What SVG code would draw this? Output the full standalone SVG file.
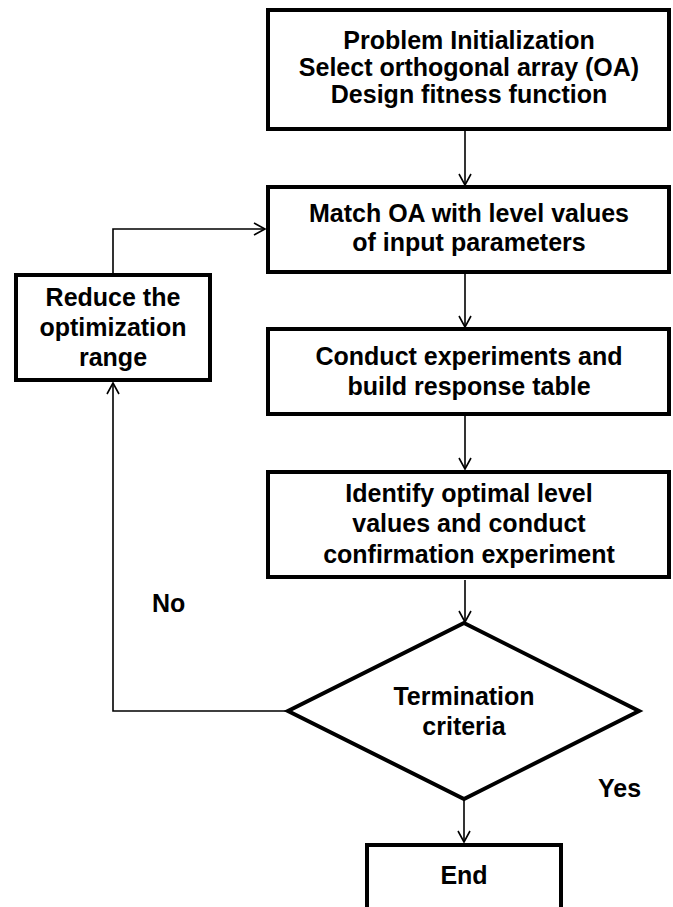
<svg xmlns="http://www.w3.org/2000/svg" width="673" height="907" viewBox="0 0 673 907">
<style>
.box{fill:#fff;stroke:#000;stroke-width:4}
.t{font-family:"Liberation Sans",Arial,sans-serif;font-weight:bold;font-size:25px;fill:#000;text-anchor:middle}
.lbl{font-family:"Liberation Sans",Arial,sans-serif;font-weight:bold;font-size:25px;fill:#000}
.c{fill:none;stroke:#000;stroke-width:1.6}
</style>
<defs>
<marker id="ah" markerUnits="userSpaceOnUse" markerWidth="14" markerHeight="16" refX="12" refY="7" orient="auto">
<path d="M1,1 L12,7 L1,13" fill="none" stroke="#000" stroke-width="1.6"/>
</marker>
</defs>
<rect width="673" height="907" fill="#fff"/>
<g id="connectors">
<line class="c" x1="465" y1="131" x2="465" y2="185" marker-end="url(#ah)"/>
<line class="c" x1="465" y1="274" x2="465" y2="327" marker-end="url(#ah)"/>
<line class="c" x1="465" y1="416" x2="465" y2="469" marker-end="url(#ah)"/>
<line class="c" x1="465" y1="580" x2="465" y2="622" marker-end="url(#ah)"/>
<line class="c" x1="464" y1="800" x2="464" y2="842" marker-end="url(#ah)"/>
<polyline class="c" points="288,711 113,711 113,383" marker-end="url(#ah)"/>
<polyline class="c" points="113,273 113,229 265,229" marker-end="url(#ah)"/>
</g>
<g id="n1">
<rect class="box" x="268" y="10" width="401" height="119"/>
<text class="t" x="469" y="49">Problem Initialization</text>
<text class="t" x="469" y="76">Select orthogonal array (OA)</text>
<text class="t" x="469" y="103">Design fitness function</text>
</g>
<g id="n2">
<rect class="box" x="268" y="187" width="401" height="85"/>
<text class="t" x="469" y="222">Match OA with level values</text>
<text class="t" x="469" y="251">of input parameters</text>
</g>
<g id="n3">
<rect class="box" x="268" y="329" width="401" height="85"/>
<text class="t" x="469" y="365">Conduct experiments and</text>
<text class="t" x="469" y="395">build response table</text>
</g>
<g id="n4">
<rect class="box" x="268" y="472" width="401" height="105"/>
<text class="t" x="469" y="502">Identify optimal level</text>
<text class="t" x="469" y="532">values and conduct</text>
<text class="t" x="469" y="563">confirmation experiment</text>
</g>
<g id="n5">
<rect class="box" x="16" y="275" width="194" height="105"/>
<text class="t" x="113" y="306">Reduce the</text>
<text class="t" x="113" y="336">optimization</text>
<text class="t" x="113" y="366">range</text>
</g>
<g id="n6">
<polygon class="box" points="464,623 639,711 464,799 288,711"/>
<text class="t" x="464" y="705">Termination</text>
<text class="t" x="464" y="735">criteria</text>
</g>
<g id="n7">
<rect class="box" x="367" y="845" width="194" height="70"/>
<text class="t" x="464" y="884">End</text>
</g>
<g id="labels">
<text class="lbl" x="152" y="612">No</text>
<text class="lbl" x="598" y="797">Yes</text>
</g>
</svg>
